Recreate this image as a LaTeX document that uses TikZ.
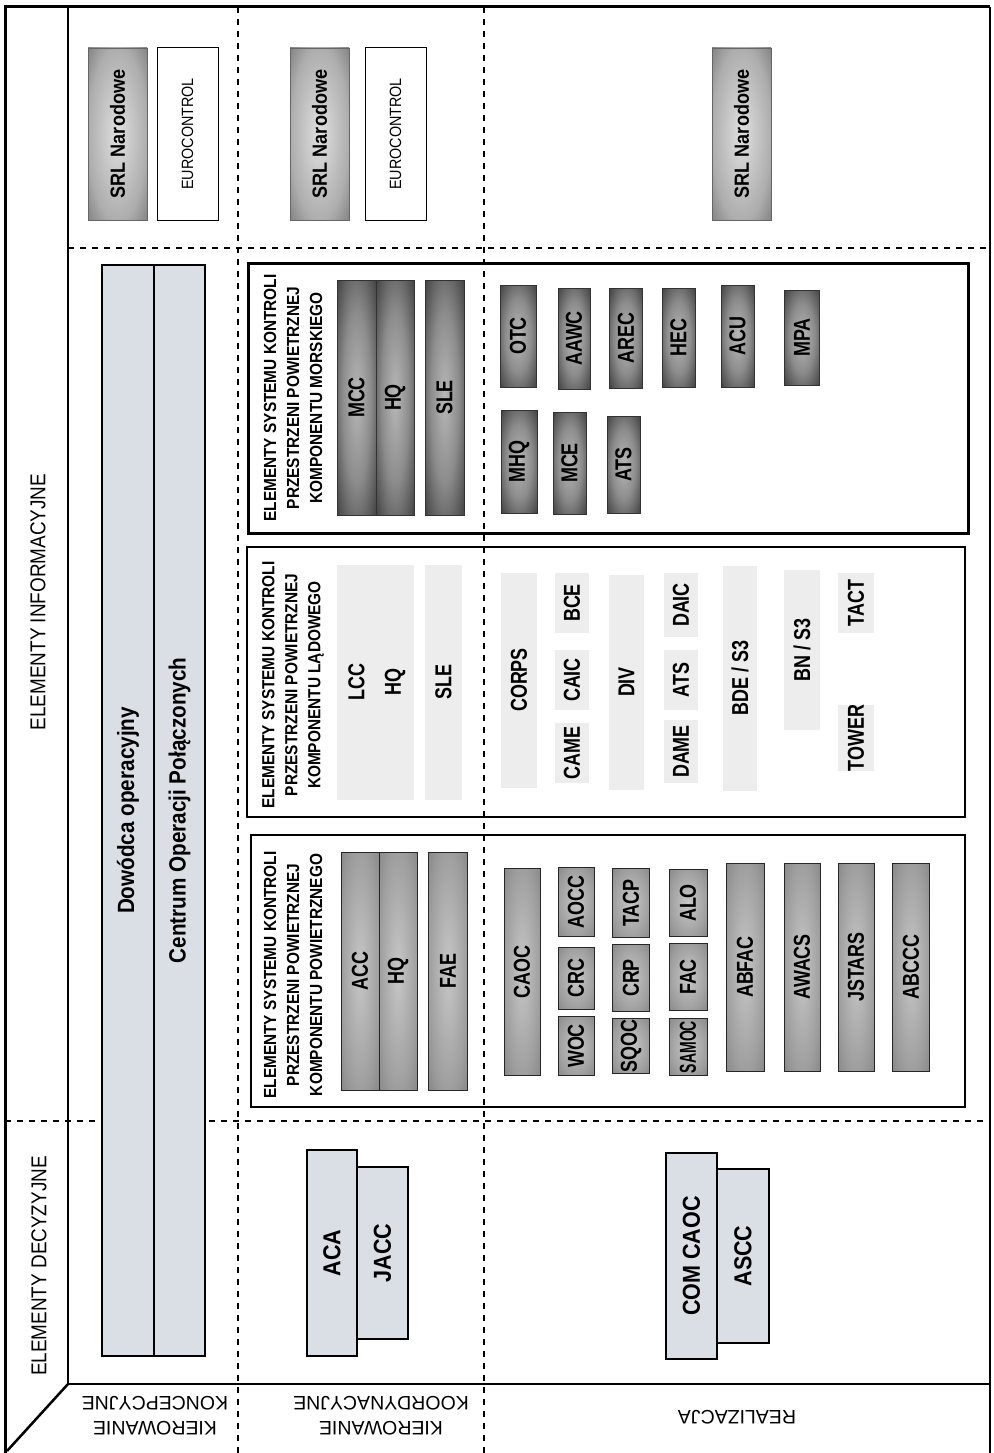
\documentclass[tikz,border=0pt]{standalone}
\usepackage{fontspec}
\usepackage{graphicx}
\setmainfont{Liberation Sans}
\newfontfamily\narrowsans{Liberation Sans}[FakeStretch=0.78]
\newfontfamily\semisans{Liberation Sans}[FakeStretch=0.88]
\usetikzlibrary{positioning}
\definecolor{palegray}{RGB}{218,222,229}
\pgfdeclareradialshading{seashade}{\pgfpoint{0bp}{0bp}}{color(0bp)=(black!28); color(18bp)=(black!45); color(36bp)=(black!75); color(50bp)=(black!93)}
\pgfdeclareradialshading{airshade}{\pgfpoint{0bp}{0bp}}{color(0bp)=(black!22); color(25bp)=(black!38); color(50bp)=(black!58)}
\pgfdeclareradialshading{srlshade}{\pgfpoint{0bp}{0bp}}{color(0bp)=(black!12); color(25bp)=(black!32); color(50bp)=(black!72)}

\begin{document}
\begin{tikzpicture}[x=1pt, y=-1pt,
    sz/.style 2 args={minimum width=#1pt, minimum height=#2pt},
    lblbox/.style={rotate=90, inner sep=0pt, font=\narrowsans\bfseries\fontsize{23}{25}\selectfont},
    airbox/.style={lblbox, draw=black!85, line width=0.8pt, shading=airshade},
    landbox/.style={lblbox, fill=black!7},
    seabox/.style={lblbox, draw=black!80, line width=0.6pt, shading=seashade},
    palebox/.style={lblbox, draw, line width=1.3pt, fill=palegray, font=\semisans\bfseries\fontsize{24.5}{26}\selectfont},
    srlbox/.style={lblbox, draw=black!60, line width=0.6pt, shading=srlshade, font=\semisans\bfseries\fontsize{20.5}{22}\selectfont},
    eurobox/.style={lblbox, draw, line width=1pt, fill=white, font=\semisans\fontsize{16.3}{18}\selectfont},
    ptitle/.style={rotate=90, align=center, inner sep=0pt, font=\semisans\bfseries\fontsize{17.5}{23}\selectfont},
    hdr/.style={rotate=90, inner sep=0pt, font=\semisans\fontsize{21.5}{23}\selectfont},
    rowlbl/.style={rotate=180, align=center, inner sep=0pt, font=\fontsize{19.5}{25}\selectfont},
    divline/.style={line width=1.2pt, dash pattern=on 6pt off 6pt},
    panel/.style={line width=1.3pt}]
  \useasboundingbox (0,0) rectangle (993,1453);

  % frame and grid
  \draw[line width=3pt] (5,1453) -- (5,7) -- (990,7);
  \draw[line width=1.5pt] (990,7) -- (990,1453);
  \coordinate (corner) at (68,1384);
  \draw[line width=2.5pt] (68,7) -- (corner) -- (990,1384);
  \draw[line width=2.5pt] (corner) -- (7,1451);
  \draw[divline] (68,248) -- (990,248);
  \draw[divline] (5,1121) -- (990,1121);
  \draw[divline] (238,7) -- (238,1453);
  \draw[divline] (484,7) -- (484,1453);

  % headers
  \node[hdr] (info) at (38,602) {ELEMENTY INFORMACYJNE};
  \node[hdr] (decy) at (39,1266) {ELEMENTY DECYZYJNE};
  \node[rowlbl] (konc) at (155,1416) {KIEROWANIE\\KONCEPCYJNE};
  \node[rowlbl] (koord) at (381,1416) {KIEROWANIE\\KOORDYNACYJNE};
  \node[rowlbl] (real) at (737,1417) {REALIZACJA};

  % SRL row
  \node[srlbox, sz={172}{59}] (srl1) at (117.5,134) {SRL Narodowe};
  \node[eurobox, sz={172}{61}] (euro1) at (187.5,134) {EUROCONTROL};
  \node[srlbox, sz={172}{59}] (srl2) at (319.5,134) {SRL Narodowe};
  \node[eurobox, sz={172}{61}] (euro2) at (395.5,134) {EUROCONTROL};
  \node[srlbox, sz={172}{59}] (srl3) at (741.5,134) {SRL Narodowe};

  % decision elements
  \node[palebox, sz={1091}{52}, line width=2pt, font=\semisans\bfseries\fontsize{23.5}{25}\selectfont] (dow) at (128,810.5) {Dowódca operacyjny};
  \node[palebox, sz={1091}{51}, line width=2pt, font=\semisans\bfseries\fontsize{23.5}{25}\selectfont] (cop) at (179.5,810.5) {Centrum Operacji Połączonych};
  \node[palebox, sz={172}{51}] (jacc) at (382.5,1253) {JACC};
  \node[palebox, sz={206}{50}] (aca) at (332,1253) {ACA};
  \node[palebox, sz={174}{52}] (ascc) at (743,1256) {ASCC};
  \node[palebox, sz={206}{51}] (comcaoc) at (691.5,1256) {COM CAOC};

  % naval component
  \draw[line width=3pt] (248,263) rectangle (968,533);
  \node[ptitle] (tsea) at (293,398) {ELEMENTY SYSTEMU KONTROLI\\PRZESTRZENI POWIETRZNEJ\\KOMPONENTU MORSKIEGO};
  \node[seabox, sz={235}{39}] (mcc) at (356.5,397.5) {MCC};
  \node[seabox, sz={235}{38}] (hqc) at (395,397.5) {HQ};
  \node[seabox, sz={235}{39}] (slec) at (444.5,397.5) {SLE};
  \node[seabox, sz={102}{36}] (otc) at (518,336) {OTC};
  \node[seabox, sz={101}{32}] (aawc) at (574,338.5) {AAWC};
  \node[seabox, sz={100}{33}] (arec) at (626,338) {AREC};
  \node[seabox, sz={99}{33}] (hec) at (678.5,337.5) {HEC};
  \node[seabox, sz={102}{33}] (acu) at (737.5,336) {ACU};
  \node[seabox, sz={95}{35}] (mpa) at (802,337.5) {MPA};
  \node[seabox, sz={103}{36}] (mhq) at (519,461.5) {MHQ};
  \node[seabox, sz={102}{33}] (mce) at (569.5,463) {MCE};
  \node[seabox, sz={97}{33}] (atsc) at (623.5,464.5) {ATS};

  % land component
  \draw[panel] (247,547) rectangle (965,817);
  \node[ptitle] (tland) at (293,685) {ELEMENTY SYSTEMU KONTROLI\\PRZESTRZENI POWIETRZNEJ\\KOMPONENTU LĄDOWEGO};
  \node[landbox, sz={235}{39}] (lcc) at (356.5,682) {LCC};
  \node[landbox, sz={235}{38}] (hqb) at (395,682) {HQ};
  \node[landbox, sz={235}{37}] (sleb) at (443.5,682) {SLE};
  \node[landbox, sz={215}{36}] (corps) at (519,680) {CORPS};
  \node[landbox, sz={60}{34}] (bce) at (572,603) {BCE};
  \node[landbox, sz={60}{34}] (caic) at (572,680) {CAIC};
  \node[landbox, sz={60}{34}] (came) at (572,753) {CAME};
  \node[landbox, sz={215}{35}] (div) at (626.5,682) {DIV};
  \node[landbox, sz={64}{34}] (daic) at (681,605) {DAIC};
  \node[landbox, sz={60}{34}] (atsb) at (681,680) {ATS};
  \node[landbox, sz={63}{34}] (dame) at (681,751.5) {DAME};
  \node[landbox, sz={225}{34}] (bde) at (740,678) {BDE / S3};
  \node[landbox, sz={160}{36}] (bn) at (802,650) {BN / S3};
  \node[landbox, sz={60}{36}] (tact) at (856,603) {TACT};
  \node[landbox, sz={66}{36}] (tower) at (856,738) {TOWER};

  % air component
  \draw[panel] (251,835) rectangle (965,1107);
  \node[ptitle] (tair) at (293,975) {ELEMENTY SYSTEMU KONTROLI\\PRZESTRZENI POWIETRZNEJ\\KOMPONENTU POWIETRZNEGO};
  \node[airbox, sz={238}{38}] (acc) at (360,971) {ACC};
  \node[airbox, sz={238}{38}] (hqa) at (398,971) {HQ};
  \node[airbox, sz={238}{39}] (fae) at (448,971) {FAE};
  \node[airbox, sz={207}{36}] (caoc) at (522,972) {CAOC};
  \node[airbox, sz={69}{36}] (aocc) at (576,902) {AOCC};
  \node[airbox, sz={62}{36}] (crc) at (576,978) {CRC};
  \node[airbox, sz={59}{36}] (woc) at (576,1046) {WOC};
  \node[airbox, sz={69}{37}] (tacp) at (631,903) {TACP};
  \node[airbox, sz={67}{37}] (crp) at (631,978) {CRP};
  \node[airbox, sz={55}{37}] (sqoc) at (631,1046) {SQOC};
  \node[airbox, sz={67}{38}] (alo) at (688,903) {ALO};
  \node[airbox, sz={67}{38}] (fac) at (688,977) {FAC};
  \node[airbox, sz={57}{38}] (samoc) at (688,1047) {\scalebox{0.78}[1]{SAMOC}};
  \node[airbox, sz={208}{38}] (abfac) at (745,967) {ABFAC};
  \node[airbox, sz={208}{36}] (awacs) at (802,967) {AWACS};
  \node[airbox, sz={208}{36}] (jstars) at (856,967) {JSTARS};
  \node[airbox, sz={208}{37}] (abccc) at (911,967) {ABCCC};
\end{tikzpicture}
\end{document}
